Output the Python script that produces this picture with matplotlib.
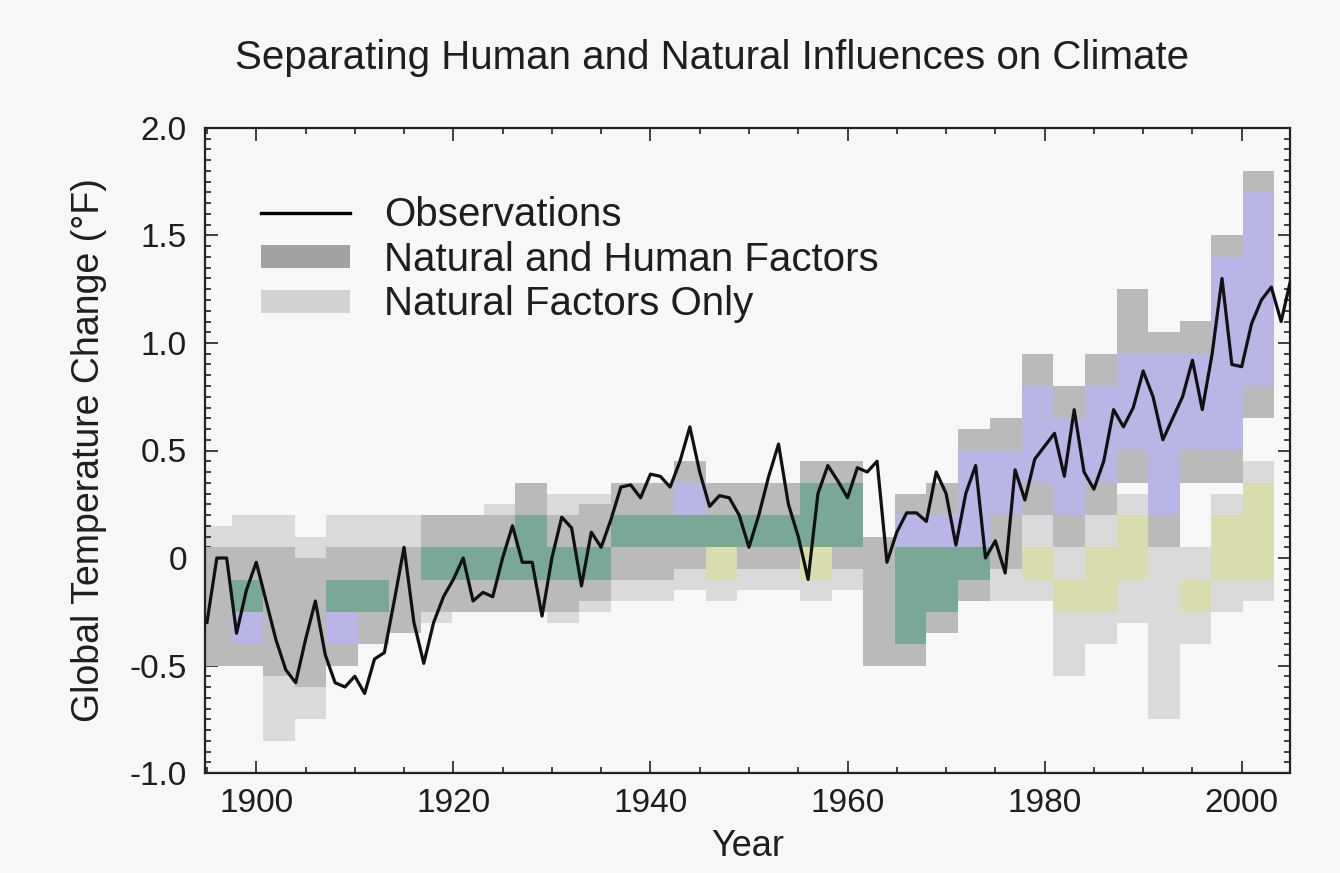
import numpy as np
import matplotlib
matplotlib.use("Agg")
import matplotlib.pyplot as plt
from matplotlib.lines import Line2D
from matplotlib.patches import Patch
from matplotlib.ticker import MultipleLocator

# ---------------- data ----------------
obs_years = list(range(1895, 2006))
obs_values = [
    -0.30, 0.00, 0.00, -0.35, -0.15, -0.02, -0.20, -0.38, -0.52, -0.58,   # 1895-1904
    -0.38, -0.20, -0.45, -0.58, -0.60, -0.55, -0.63, -0.47, -0.44, -0.20,  # 1905-1914
    0.05, -0.30, -0.49, -0.30, -0.18, -0.10, 0.00, -0.20, -0.16, -0.18,    # 1915-1924
    0.00, 0.15, -0.02, -0.02, -0.27, 0.00, 0.19, 0.14, -0.13, 0.12,        # 1925-1934
    0.05, 0.18, 0.33, 0.34, 0.28, 0.39, 0.38, 0.33, 0.45, 0.61,            # 1935-1944
    0.40, 0.24, 0.29, 0.28, 0.20, 0.05, 0.20, 0.38, 0.53, 0.25,            # 1945-1954
    0.10, -0.10, 0.30, 0.43, 0.36, 0.28, 0.42, 0.40, 0.45, -0.02,          # 1955-1964
    0.12, 0.21, 0.21, 0.17, 0.40, 0.30, 0.06, 0.30, 0.43, 0.00,            # 1965-1974
    0.08, -0.07, 0.41, 0.27, 0.46, 0.52, 0.58, 0.38, 0.69, 0.40,           # 1975-1984
    0.32, 0.45, 0.69, 0.61, 0.70, 0.87, 0.75, 0.55, 0.65, 0.75,            # 1985-1994
    0.92, 0.69, 0.95, 1.30, 0.90, 0.89, 1.09, 1.20, 1.26, 1.10,            # 1995-2004
    1.30,                                                                  # 2005
]

# model-range blocks: edges in years (34 blocks)
block_edges = [1894.3, 1897.5, 1900.7, 1903.9, 1907.1, 1910.3, 1913.5, 1916.7,
               1919.9, 1923.1, 1926.3, 1929.5, 1932.8, 1936.0, 1939.2, 1942.4,
               1945.6, 1948.8, 1952.0, 1955.2, 1958.4, 1961.6, 1964.8, 1968.0,
               1971.2, 1974.5, 1977.7, 1980.9, 1984.1, 1987.3, 1990.5, 1993.7,
               1996.9, 2000.1, 2003.3]
nan = np.nan
# likely range, natural + human factors
nh_lo = [nan, -0.40, nan, nan, -0.40, -0.25, nan, -0.10, -0.10, -0.10, -0.10, -0.10,
         -0.10, 0.05, 0.05, 0.05, 0.05, 0.05, 0.05, 0.05, 0.05, nan, -0.40, -0.25,
         -0.10, 0.20, 0.35, 0.20, 0.35, 0.50, 0.20, 0.50, 0.50, 0.80]
nh_hi = [nan, -0.10, nan, nan, -0.10, -0.10, nan, 0.05, 0.05, 0.05, 0.20, 0.05,
         0.05, 0.20, 0.20, 0.35, 0.20, 0.20, 0.20, 0.35, 0.35, nan, 0.20, 0.20,
         0.50, 0.50, 0.80, 0.65, 0.80, 0.95, 0.95, 0.95, 1.40, 1.70]
# likely range, natural factors only
n_lo = [nan, -0.25, nan, nan, -0.25, -0.25, nan, -0.10, -0.10, -0.10, -0.10, -0.10,
        -0.10, 0.05, 0.05, 0.05, -0.10, 0.05, 0.05, -0.10, 0.05, nan, -0.40, -0.25,
        -0.10, nan, -0.10, -0.25, -0.25, -0.10, nan, -0.25, -0.10, -0.10]
n_hi = [nan, -0.10, nan, nan, -0.10, -0.10, nan, 0.05, 0.05, 0.05, 0.20, 0.05,
        0.05, 0.20, 0.20, 0.20, 0.20, 0.20, 0.20, 0.35, 0.35, nan, 0.05, 0.05,
        0.05, nan, 0.05, -0.10, 0.05, 0.20, nan, -0.10, 0.20, 0.35]
# full range (grey halo), natural + human factors
nh_full_lo = [-0.50, -0.50, -0.55, -0.60, -0.50, -0.40, -0.35, -0.25, -0.25, -0.25,
              -0.25, -0.25, -0.20, -0.10, -0.10, -0.05, -0.05, -0.05, -0.05, -0.10,
              -0.05, -0.50, -0.50, -0.35, -0.20, -0.05, 0.20, 0.05, 0.20, 0.35,
              0.05, 0.35, 0.35, 0.65]
nh_full_hi = [0.05, 0.05, 0.05, 0.00, 0.05, 0.05, 0.05, 0.20, 0.20, 0.20,
              0.35, 0.20, 0.25, 0.35, 0.35, 0.45, 0.35, 0.35, 0.35, 0.45,
              0.45, 0.10, 0.30, 0.35, 0.60, 0.65, 0.95, 0.80, 0.95, 1.25,
              1.05, 1.10, 1.50, 1.80]
# full range (grey halo), natural factors only
n_full_lo = [-0.40, -0.45, -0.85, -0.75, -0.45, -0.40, -0.35, -0.30, -0.25, -0.25,
             -0.25, -0.30, -0.25, -0.20, -0.20, -0.15, -0.20, -0.15, -0.15, -0.20,
             -0.15, -0.50, -0.45, -0.35, -0.20, -0.20, -0.20, -0.55, -0.40, -0.30,
             -0.75, -0.40, -0.25, -0.20]
n_full_hi = [0.15, 0.20, 0.20, 0.10, 0.20, 0.20, 0.20, 0.20, 0.20, 0.25,
             0.35, 0.30, 0.30, 0.35, 0.35, 0.35, 0.35, 0.35, 0.35, 0.45,
             0.45, 0.10, 0.15, 0.15, 0.20, 0.20, 0.20, 0.10, 0.20, 0.30,
             0.10, 0.05, 0.30, 0.45]

title = "Separating Human and Natural Influences on Climate"
legend_labels = ["Observations", "Natural and Human Factors", "Natural Factors Only"]
x_label = "Year"
y_label = "Global Temperature Change (°F)"
y_tick_values = [-1.0, -0.5, 0.0, 0.5, 1.0, 1.5, 2.0]
y_tick_labels = ["-1.0", "-0.5", "0", "0.5", "1.0", "1.5", "2.0"]

# ---------------- style ----------------
BG = "#f7f7f7"
C_PURPLE = "#b9b5e6"
C_YELLOW = "#d9dcac"
C_GREEN = "#79a897"
C_NH_GREY = "#bababa"
C_N_GREY = "#dadada"
TXT = "#1e1e1e"

plt.rcParams['font.family'] = ['Liberation Sans', 'DejaVu Sans']

fig = plt.figure(figsize=(13.4, 8.73), dpi=100, facecolor=BG)
ax = fig.add_axes([205/1340, 1-773/873, 1085/1340, 645/873], facecolor=BG)

edges = np.array(block_edges)
left = edges[:-1]
width = np.diff(edges)

def blocks(lo, hi, color, z):
    lo = np.array(lo, float)
    hi = np.array(hi, float)
    ax.bar(left, hi - lo, width=width, bottom=lo, align='edge',
           color=color, linewidth=0, zorder=z)

blocks(n_full_lo, n_full_hi, C_N_GREY, 1)
blocks(nh_full_lo, nh_full_hi, C_NH_GREY, 2)
blocks(nh_lo, nh_hi, C_PURPLE, 3)
blocks(n_lo, n_hi, C_YELLOW, 3)
ov_lo = np.maximum(np.array(nh_lo, float), np.array(n_lo, float))
ov_hi = np.minimum(np.array(nh_hi, float), np.array(n_hi, float))
ov_hi = np.where(ov_hi > ov_lo, ov_hi, np.nan)
blocks(ov_lo, ov_hi, C_GREEN, 4)

ax.plot(obs_years, obs_values, color="#111111", lw=2.3, zorder=6,
        solid_joinstyle='round')

ax.set_xlim(1894.8, 2004.9)
ax.set_ylim(-1.0, 2.0)

ax.xaxis.set_major_locator(MultipleLocator(20))
ax.xaxis.set_minor_locator(MultipleLocator(5))
ax.set_yticks(y_tick_values)
ax.set_yticklabels(y_tick_labels)
ax.yaxis.set_minor_locator(MultipleLocator(0.05))

ax.tick_params(which='both', direction='in', top=True, right=True,
               colors='#222222', width=1.2)
ax.tick_params(which='major', length=9, labelsize=24, labelcolor=TXT)
ax.tick_params(which='minor', length=4.5)
ax.tick_params(axis='x', which='major', pad=11)
ax.tick_params(axis='y', which='major', pad=13)
for s in ax.spines.values():
    s.set_linewidth(1.6)
    s.set_color('#222222')

ax.set_xlabel(x_label, fontsize=26, color=TXT, labelpad=7)
ax.set_ylabel(y_label, fontsize=27, color=TXT, labelpad=16)

fig.text(712/1340, 1-58/873, title, fontsize=29, color=TXT,
         ha='center', va='center')

handles = [Line2D([], [], color='black', lw=2.4),
           Patch(facecolor="#a2a2a2", edgecolor='none'),
           Patch(facecolor="#d2d2d2", edgecolor='none')]
leg = ax.legend(handles, legend_labels, loc='upper left',
                bbox_to_anchor=(0.052, 0.895), frameon=False, fontsize=29,
                handlelength=2.2, handleheight=0.5, handletextpad=0.85,
                labelspacing=0.17, borderpad=0, borderaxespad=0)
for t in leg.get_texts():
    t.set_color(TXT)

fig.savefig("out.png", dpi=100, facecolor=BG)
